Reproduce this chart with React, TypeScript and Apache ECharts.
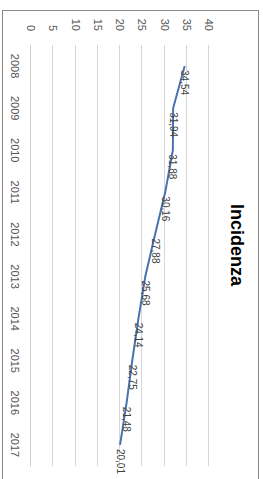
import React, { useEffect, useRef } from "react";
import * as echarts from "echarts";

const years = ["2008", "2009", "2010", "2011", "2012", "2013", "2014", "2015", "2016", "2017"];
const incidenza = [34.54, 31.94, 31.88, 30.16, 27.88, 25.68, 24.14, 22.75, 21.48, 20.01];
const titleText = "Incidenza";

const W = 468;
const H = 255;

export default function App() {
  const ref = useRef<HTMLDivElement>(null);
  useEffect(() => {
    if (!ref.current) return;
    const chart = echarts.init(ref.current, null, { renderer: "svg" });
    chart.setOption({
      animation: false,
      backgroundColor: "#ffffff",
      title: {
        text: titleText,
        left: "center",
        top: 7,
        textStyle: { fontFamily: "Liberation Sans", fontSize: 18, fontWeight: "bold", color: "#000000" },
      },
      grid: { left: 34, right: 13, top: 49, bottom: 28 },
      xAxis: {
        type: "category",
        data: years,
        boundaryGap: true,
        axisLine: { show: true, lineStyle: { color: "#d0d0d0" } },
        axisTick: { show: false },
        axisLabel: { color: "#555555", fontSize: 11, fontFamily: "Liberation Sans", margin: 11 },
      },
      yAxis: {
        type: "value",
        min: 0,
        max: 40,
        interval: 5,
        axisLine: { show: false },
        axisTick: { show: false },
        splitLine: { lineStyle: { color: "#d6d6d6" } },
        axisLabel: { color: "#555555", fontSize: 11, fontFamily: "Liberation Sans", margin: 14 },
      },
      series: [
        {
          type: "line",
          data: incidenza,
          symbol: "circle",
          symbolSize: 2,
          showSymbol: true,
          itemStyle: { color: "rgba(0,0,0,0)", borderWidth: 0 },
          lineStyle: { color: "#4a72b0", width: 2 },
          label: {
            show: true,
            position: "right",
            distance: 3,
            color: "#404040",
            fontSize: 10,
            fontFamily: "Liberation Sans",
            formatter: (p: any) => Number(p.value).toFixed(2).replace(".", ","),
          },
        },
      ],
    });
    return () => chart.dispose();
  }, []);

  return (
    <div
      style={{
        position: "fixed",
        left: 2,
        top: 10,
        width: H,
        height: 469,
        borderTop: "1px solid #8a8a8a",
        borderLeft: "1px solid #8a8a8a",
        borderRight: "1px solid #8a8a8a",
        overflow: "hidden",
        background: "#fff",
      }}
    >
      <div
        ref={ref}
        style={{
          position: "absolute",
          left: 0,
          top: 0,
          width: W,
          height: H,
          transformOrigin: "0 0",
          transform: `translateX(${H}px) rotate(90deg)`,
        }}
      />
    </div>
  );
}
